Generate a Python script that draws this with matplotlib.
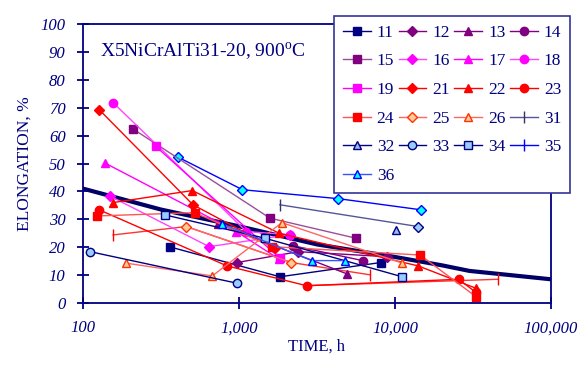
import numpy as np
import matplotlib.pyplot as plt
from matplotlib.ticker import FixedLocator, FuncFormatter

plt.rcParams['font.family'] = ['Liberation Serif', 'DejaVu Serif']
plt.rcParams['mathtext.fontset'] = 'custom'
plt.rcParams['mathtext.rm'] = 'Liberation Serif'

NAVY = '#000080'

# трассы: время (ч) и удлинение (%)
t11 = [361, 1830, 8080];            e11 = [20.1, 9.4, 14.5]
t12 = [970, 2400, 8880];            e12 = [14.5, 18.4, 16.6]
t13 = [733, 4940];                  e13 = [28.4, 10.4]
t14 = [2230, 6200];                 e14 = [20.5, 15.2]
t15 = [209, 1581, 5640];            e15 = [62.4, 30.4, 23.2]
t16 = [148, 643, 2120];             e16 = [38.4, 20.2, 24.5]
t17 = [138, 961, 1810];             e17 = [50.2, 25.6, 15.7]
t18 = [156, 1116, 2120];            e18 = [71.8, 25.6, 24.5]
t19 = [292, 1830];                  e19 = [56.2, 16.0]
t21 = [127, 507, 1700];             e21 = [69.3, 35.2, 19.6]
t22 = [156, 502, 1810, 14070, 33000]; e22 = [36.0, 40.3, 25.0, 13.3, 5.3]
t23 = [127, 837, 2710, 25600, 33000]; e23 = [33.4, 13.3, 6.2, 8.5, 3.8]
t24 = [123, 520, 1620, 14490, 33000]; e24 = [31.2, 32.4, 20.2, 17.2, 2.3]
t25 = [460, 2170];                  e25 = [27.4, 14.5]
t26 = [188, 674, 1883, 11120];      e26 = [14.3, 9.7, 28.8, 14.3]
t31 = [1830, 14070];                e31 = [35.2, 27.4]
t32 = [10200];                      e32 = [26.2]
t33 = [111, 970];                   e33 = [18.4, 7.1]
t34 = [334, 1470, 11120];           e34 = [31.6, 23.2, 9.4]
t35 = [];                           e35 = []
t36 = [782, 2920, 4780];            e36 = [28.4, 15.2, 15.2]

# дополнительные линии без легенды
t_cyan = [406, 1053, 4330, 14700];  e_cyan = [52.3, 40.6, 37.4, 33.4]
t_bdia = [14070];                   e_bdia = [27.4]
t_rtick1 = [156, 460, 2170, 6920];  e_rtick1 = [24.4, 27.4, 14.5, 10.1]
t_rtick2 = [2710, 45600];           e_rtick2 = [6.2, 8.5]

# средняя кривая
t_trend = [100, 316, 1000, 3160, 10000, 20000, 30000, 100000]
e_trend = [41, 33.5, 27.5, 21, 16.5, 13.5, 11.5, 8.5]

fig = plt.figure(figsize=(5.88, 3.69), dpi=100)
ax = fig.add_axes([83/588, 1-303/369, 468/588, 279/369])

def line(t, e, lc, m, mfc, mec=None, label='_nolegend_', ms=6, mew=1.0, **kw):
    return ax.plot(t, e, color=lc, lw=1, marker=m, markersize=ms,
                   markerfacecolor=mfc, markeredgecolor=mec or mfc,
                   markeredgewidth=mew, label=label, **kw)

# без легенды
line(t_cyan, e_cyan, '#0000ff', 'D', '#00ffff', '#0000ff', ms=5)
line(t_rtick1, e_rtick1, '#ff3333', '|', '#ff0000', ms=9, markevery=[0, 3])
line(t_rtick2, e_rtick2, '#ff3333', '|', '#ff0000', ms=9, markevery=[1])

h = {}
h['11'] = line(t11, e11, NAVY, 's', NAVY, label='11')
h['12'] = line(t12, e12, '#800080', 'D', '#800080', label='12', ms=5)
h['13'] = line(t13, e13, '#800080', '^', '#800080', label='13')
h['14'] = line(t14, e14, '#800080', 'o', '#800080', label='14')
h['15'] = line(t15, e15, '#9b4f9b', 's', '#800080', label='15')
h['16'] = line(t16, e16, '#ff44ff', 'D', '#ff00ff', label='16', ms=5)
h['17'] = line(t17, e17, '#ff00ff', '^', '#ff00ff', label='17')
h['18'] = line(t18, e18, '#ff44ff', 'o', '#ff00ff', label='18')
h['19'] = line(t19, e19, '#ff00ff', 's', '#ff00ff', label='19')
h['21'] = line(t21, e21, '#ff0000', 'D', '#ff0000', label='21', ms=5)
h['22'] = line(t22, e22, '#ff0000', '^', '#ff0000', label='22')
h['23'] = line(t23, e23, '#ff0000', 'o', '#ff0000', label='23')
h['24'] = line(t24, e24, '#ff5555', 's', '#ff0000', label='24')
h['25'] = line(t25, e25, '#ff6666', 'D', '#ffcc99', '#ff3300', label='25', ms=5)
h['26'] = line(t26, e26, '#ff6666', '^', '#ffcc99', '#ff3300', label='26')
h['31'] = line(t31, e31, '#555599', '|', '#333366', label='31', ms=9, markevery=[0])
h['32'] = line(t32, e32, NAVY, '^', '#99bbee', NAVY, label='32')
h['33'] = line(t33, e33, NAVY, 'o', '#99ccff', NAVY, label='33')
h['34'] = line(t34, e34, NAVY, 's', '#99ccff', NAVY, label='34')
h['35'] = line(t35, e35, '#0000ff', '|', '#0000ff', label='35', ms=9)
h['36'] = line(t36, e36, '#3355ff', '^', '#00ffff', '#0000ff', label='36')
line(t_bdia, e_bdia, NAVY, 'D', '#99ccff', NAVY, ms=5)

ax.plot(t_trend, e_trend, color='#000066', lw=3, zorder=1.5)

ax.set_xscale('log')
ax.set_xlim(100, 100000)
ax.set_ylim(0, 100)
ax.xaxis.set_major_locator(FixedLocator([100, 1000, 10000, 100000]))
ax.xaxis.set_minor_locator(FixedLocator([]))
ax.xaxis.set_major_formatter(FuncFormatter(lambda v, p: f'{int(v):,}'))
ax.set_yticks(range(0, 101, 10))

for s in ax.spines.values():
    s.set_color(NAVY)
    s.set_linewidth(1.3)
ax.tick_params(direction='inout', length=9, width=1.3, color=NAVY,
               labelcolor=NAVY, labelsize=12, pad=8)
for lab in ax.get_xticklabels() + ax.get_yticklabels():
    lab.set_fontstyle('italic')

ax.set_xlabel('TIME, h', color=NAVY, fontsize=12, labelpad=2)
ax.set_ylabel('ELONGATION, %', color=NAVY, fontsize=12.5, labelpad=6)

# подпись сплава, позиция в пикселях
fig.text(100/588, 1-52/369, r'X5NiCrAlTi31-20, 900$^{\mathrm{o}}$C',
         color=NAVY, fontsize=14, va='center', ha='left')

order = ['11', '12', '13', '14', '15', '16', '17', '18', '19', '21', '22',
         '23', '24', '25', '26', '31', '32', '33', '34', '35', '36']
# ряды -> столбцы
cols = [order[i::4] for i in range(4)]
labels = [k for c in cols for k in c]
handles = [h[k][0] for k in labels]
leg = ax.legend(handles, labels, ncol=4, loc='upper right',
                bbox_to_anchor=(570/588, 1-16/369),
                bbox_transform=fig.transFigure, fontsize=12.5,
                fancybox=False, framealpha=1, edgecolor='#333399',
                handlelength=1.6, columnspacing=0.25, labelspacing=0.72,
                handletextpad=0.35, borderpad=0.5, borderaxespad=0)
leg.get_frame().set_linewidth(1.2)
for tx in leg.get_texts():
    tx.set_color(NAVY)

fig.savefig('out.png', dpi=100)
